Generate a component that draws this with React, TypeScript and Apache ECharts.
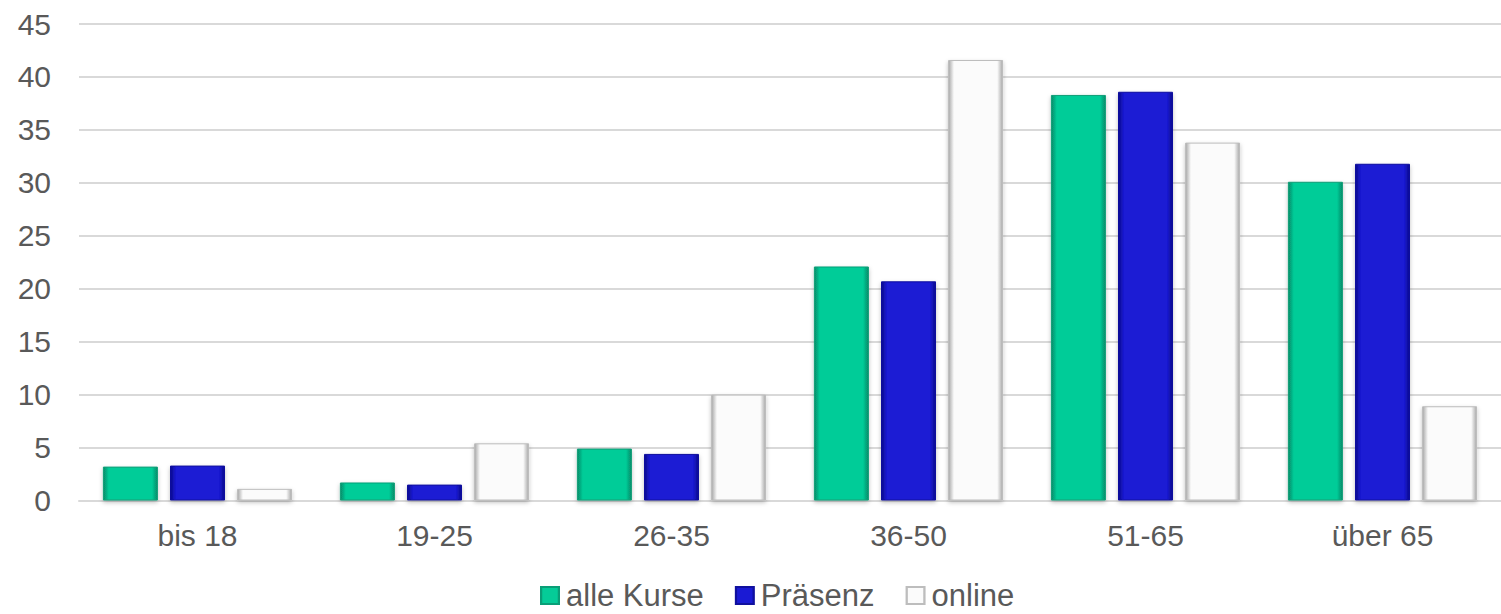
import React, { useEffect, useRef } from "react";
import * as echarts from "echarts";

const categories = ["bis 18", "19-25", "26-35", "36-50", "51-65", "über 65"];
const alleKurse = [3.2, 1.7, 4.9, 22.1, 38.3, 30.1];
const praesenz = [3.3, 1.5, 4.4, 20.7, 38.6, 31.8];
const online = [1.1, 5.4, 10.0, 41.6, 33.8, 8.9];
const seriesNames = ["alle Kurse", "Präsenz", "online"];

const FONT = "Liberation Sans, Arial, sans-serif";
const TXT = "#595959";

function hGrad(edge: string, mid: string) {
  return new echarts.graphic.LinearGradient(0, 0, 1, 0, [
    { offset: 0, color: edge },
    { offset: 0.1, color: mid },
    { offset: 0.9, color: mid },
    { offset: 1, color: edge },
  ]);
}

export default function App() {
  const ref = useRef<HTMLDivElement>(null);
  useEffect(() => {
    document.body.style.margin = "0";
    const chart = echarts.init(ref.current!, undefined, { renderer: "svg" });
    const styles = [
      { edge: "#078a68", mid: "#05cc98", border: "#0a9e77" },
      { edge: "#0b0b8c", mid: "#1a1ad4", border: "#10109e" },
      { edge: "#a8a8a8", mid: "#fbfbfb", border: "#bdbdbd" },
    ];
    const datas = [alleKurse, praesenz, online];
    chart.setOption({
      animation: false,
      textStyle: { fontFamily: FONT },
      grid: { left: 79, width: 1441, top: 24, bottom: 113.5, containLabel: false },
      legend: {
        top: 580,
        left: 540,
        padding: 0,
        icon: "rect",
        itemWidth: 18,
        itemHeight: 17,
        itemGap: 31,
        textStyle: {
          color: TXT,
          fontSize: 31,
          lineHeight: 31,
          fontFamily: FONT,
          padding: [0, 0, 0, 2],
        },
        data: seriesNames,
      },
      xAxis: {
        type: "category",
        data: categories,
        axisLine: { show: true, lineStyle: { color: "#d9d9d9", width: 2 } },
        axisTick: { show: false },
        axisLabel: { color: TXT, fontSize: 30, margin: 20, fontFamily: FONT },
      },
      yAxis: {
        type: "value",
        min: 0,
        max: 45,
        interval: 5,
        axisLine: { show: false },
        axisTick: { show: false },
        splitLine: { lineStyle: { color: "#d9d9d9", width: 2 } },
        axisLabel: { color: TXT, fontSize: 30, margin: 28, fontFamily: FONT },
      },
      series: datas.map((d, i) => ({
        name: seriesNames[i],
        type: "bar",
        data: d,
        barWidth: 55,
        barGap: "22%",
        itemStyle: {
          color: hGrad(styles[i].edge, styles[i].mid),
          borderColor: styles[i].border,
          borderWidth: 1,
          shadowColor: "rgba(0,0,0,0.25)",
          shadowBlur: 4,
          shadowOffsetY: 2,
        },
      })),
    });
    return () => chart.dispose();
  }, []);
  return (
    <div
      ref={ref}
      style={{ position: "absolute", left: 0, top: 0, width: 1501, height: 614, overflow: "hidden" }}
    />
  );
}
